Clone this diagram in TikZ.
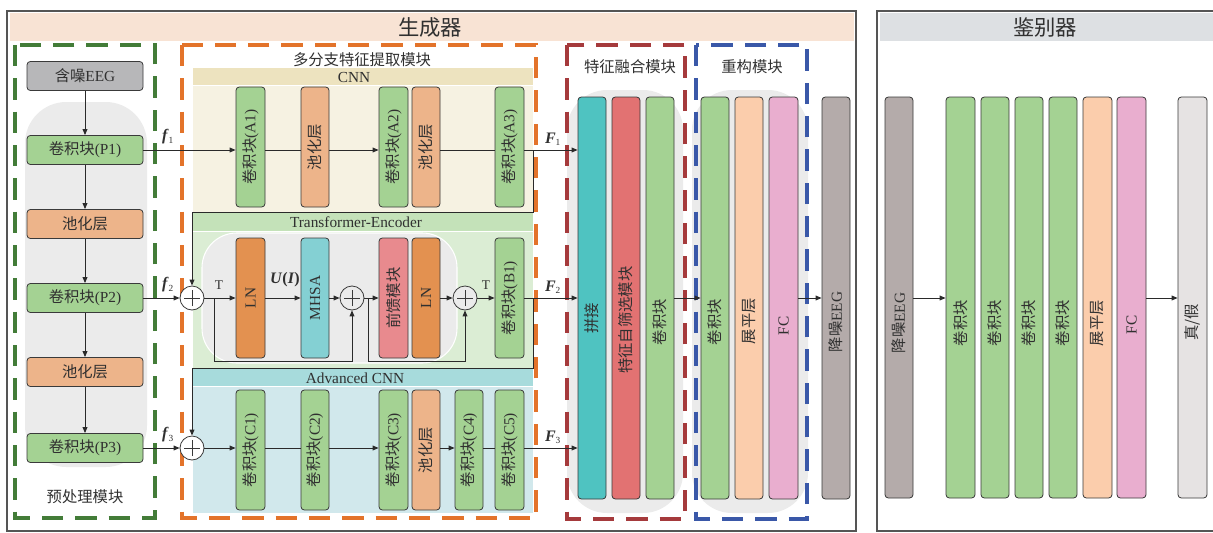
\documentclass[tikz,border=0pt]{standalone}
\usepackage{fontspec}
\setmainfont{Liberation Serif}
\newfontfamily\cjk{Noto Sans CJK SC}
\usetikzlibrary{arrows.meta}
\newcommand\zh[1]{{\cjk #1}}
\definecolor{txt}{HTML}{303030}
\definecolor{bd}{HTML}{3A3A3A}
\definecolor{ln}{HTML}{2A2A2A}
\definecolor{framec}{HTML}{555555}
\definecolor{pk}{HTML}{F8E3D4}
\definecolor{dg}{HTML}{DDE0E3}
\definecolor{capg}{HTML}{EBEBEB}
\definecolor{dgreen}{HTML}{437C38}
\definecolor{dorange}{HTML}{E3732A}
\definecolor{dred}{HTML}{A53A3C}
\definecolor{dblue}{HTML}{3A58A8}
\definecolor{grn}{HTML}{A4D293}
\definecolor{poolc}{HTML}{EDB48A}
\definecolor{gry}{HTML}{B7B7B9}
\definecolor{cnnh}{HTML}{EDE3BF}
\definecolor{cnnb}{HTML}{F6F2E2}
\definecolor{trh}{HTML}{C4E2B9}
\definecolor{trb}{HTML}{DBEDD4}
\definecolor{advh}{HTML}{A7DBDC}
\definecolor{advb}{HTML}{D1E8EC}
\definecolor{lnc}{HTML}{E39150}
\definecolor{mhsac}{HTML}{84D0D3}
\definecolor{ffc}{HTML}{E88A8E}
\definecolor{tealc}{HTML}{4FC3C1}
\definecolor{selr}{HTML}{E27272}
\definecolor{flatc}{HTML}{FBCDAC}
\definecolor{fcp}{HTML}{E9AECF}
\definecolor{denc}{HTML}{B4ABAA}
\definecolor{outg}{HTML}{E6E3E3}
\newcommand\vb[8]{%
  \node[box, fill=#6, minimum width={(#3-#2)*0.75pt}, minimum height={(#5-#4)*0.75pt}] (#1) at ({(#2+#3)/2},{(#4+#5)/2}) {};
  \node[rotate=90] (#1t) at ({(#2+#3)/2},#7) {#8};}
\begin{document}
\begin{tikzpicture}[x=0.75pt,y=-0.75pt,
  every node/.style={font=\fontsize{11.5}{13}\selectfont, text=txt},
  box/.style={draw=bd, line width=0.6pt, rounded corners=2.5pt, inner sep=0pt},
  hb/.style={box, minimum width=87pt, minimum height=21.75pt},
  arr/.style={draw=ln, line width=0.7pt, -{Triangle[length=4.5pt,width=3.6pt]}},
  conn/.style={draw=ln, line width=0.7pt},
  dbox/.style={line width=2.6pt, dash pattern=on 16pt off 9pt},
  title/.style={font=\fontsize{16}{18}\selectfont},
  lab/.style={font=\fontsize{12}{14}\selectfont},
  plus/.style={circle, draw=bd, line width=0.6pt, minimum size=18pt, inner sep=0pt,
    path picture={\draw[bd, line width=0.5pt] ([xshift=-6pt]path picture bounding box.center) -- ([xshift=6pt]path picture bounding box.center);
      \draw[bd, line width=0.5pt] ([yshift=-6pt]path picture bounding box.center) -- ([yshift=6pt]path picture bounding box.center);}},
  ]
\useasboundingbox (0,0) rectangle (1213,532);
% ---- outer frames
\fill[fill=pk] (10,13) rectangle (854,41);
\node[title] (gtitle) at (430,27) {\zh{生成器}};
\draw[line width=1.1pt, draw=framec] (7,11) rectangle (856,531);
\fill[fill=dg] (880,13) rectangle (1214,41);
\node[title] (dtitle) at (1045,27) {\zh{鉴别器}};
\draw[line width=1.1pt, draw=framec] (877,11) rectangle (1216,531);
% ---- capsules
\fill[fill=capg, rounded corners=31pt] (25,102) rectangle (147,467);
\fill[fill=capg, rounded corners=30pt] (567,90) rectangle (683,513);
\fill[fill=capg, rounded corners=30pt] (692,90) rectangle (808,513);
% ---- sections
\fill[fill=cnnh] (193,68) rectangle (533,85);
\fill[fill=cnnb] (193,86) rectangle (533,212);
\fill[fill=trh] (193,213) rectangle (533,231);
\fill[fill=trb] (193,232) rectangle (533,368);
\draw[draw=white, fill=capg, rounded corners=26pt, line width=0.8pt] (202,233) rectangle (457,363);
\fill[fill=advh] (193,369) rectangle (533,386);
\fill[fill=advb] (193,387) rectangle (533,513);
\node (cnnlab) at (354,77) {CNN};
\node (trlab) at (356,222) {Transformer-Encoder};
\node (advlab) at (355,378) {Advanced CNN};
% ---- dashed modules
\draw[dbox, draw=dgreen] (15,45) rectangle (155,518);
\draw[dbox, draw=dorange] (182,45) rectangle (536,518);
\draw[dbox, draw=dred] (567,45) rectangle (685,519);
\draw[dbox, draw=dblue] (696,45) rectangle (807,519);
\node (m1) at (85,497) {\zh{预处理模块}};
\node (m2) at (362,60) {\zh{多分支特征提取模块}};
\node (m3) at (630,67) {\zh{特征融合模块}};
\node (m4) at (752,67) {\zh{重构模块}};
% ---- preprocessing
\node[hb, fill=gry] (N0) at (85,76) {\zh{含噪}EEG};
\node[hb, fill=grn] (P1) at (85,150) {\zh{卷积块}(P1)};
\node[hb, fill=poolc] (Q1) at (85,224) {\zh{池化层}};
\node[hb, fill=grn] (P2) at (85,298) {\zh{卷积块}(P2)};
\node[hb, fill=poolc] (Q2) at (85,372) {\zh{池化层}};
\node[hb, fill=grn] (P3) at (85,448) {\zh{卷积块}(P3)};
\draw[arr] (N0) -- (P1);
\draw[arr] (P1) -- (Q1);
\draw[arr] (Q1) -- (P2);
\draw[arr] (P2) -- (Q2);
\draw[arr] (Q2) -- (P3);
% ---- CNN branch
\vb{A1}{236}{265}{87}{207}{grn}{147}{\zh{卷积块}(A1)}
\vb{Pa1}{301}{329}{87}{207}{poolc}{147}{\zh{池化层}}
\vb{A2}{379}{408}{87}{207}{grn}{147}{\zh{卷积块}(A2)}
\vb{Pa2}{412}{440}{87}{207}{poolc}{147}{\zh{池化层}}
\vb{A3}{495}{524}{87}{207}{grn}{147}{\zh{卷积块}(A3)}
% ---- Transformer branch
\node[plus, fill=white] (S2) at (192,298) {};
\vb{LN1}{236}{265}{238}{358}{lnc}{298}{LN}
\vb{MH}{301}{329}{238}{358}{mhsac}{298}{MHSA}
\node[plus, fill=capg] (S4) at (352,298) {};
\vb{FF}{379}{408}{238}{358}{ffc}{298}{\zh{前馈模块}}
\vb{LN2}{412}{440}{238}{358}{lnc}{298}{LN}
\node[plus, fill=capg] (S5) at (465,298) {};
\vb{B1}{495}{524}{238}{358}{grn}{298}{\zh{卷积块}(B1)}
% ---- Advanced CNN branch
\node[plus, fill=white] (S3) at (192,448) {};
\vb{C1}{236}{265}{390}{510}{grn}{450}{\zh{卷积块}(C1)}
\vb{C2}{301}{329}{390}{510}{grn}{450}{\zh{卷积块}(C2)}
\vb{C3}{379}{408}{390}{510}{grn}{450}{\zh{卷积块}(C3)}
\vb{Pc}{412}{440}{390}{510}{poolc}{450}{\zh{池化层}}
\vb{C4}{455}{483}{390}{510}{grn}{450}{\zh{卷积块}(C4)}
\vb{C5}{495}{524}{390}{510}{grn}{450}{\zh{卷积块}(C5)}
% ---- fusion / reconstruction
\vb{cat}{578}{606}{97}{499}{tealc}{318}{\zh{拼接}}
\vb{sel}{612}{640}{97}{499}{selr}{320}{\zh{特征自筛选模块}}
\vb{fconv}{646}{674}{97}{499}{grn}{322}{\zh{卷积块}}
\vb{rconv}{701}{729}{97}{499}{grn}{322}{\zh{卷积块}}
\vb{rflat}{735}{763}{97}{499}{flatc}{321}{\zh{展平层}}
\vb{rfc}{769}{798}{97}{499}{fcp}{326}{FC}
\vb{rden}{822}{850}{97}{499}{denc}{322}{\zh{降噪}EEG}
% ---- discriminator
\vb{dEEG}{885}{913}{97}{498}{denc}{323}{\zh{降噪}EEG}
\vb{d1}{946}{975}{97}{498}{grn}{323}{\zh{卷积块}}
\vb{d2}{981}{1009}{97}{498}{grn}{323}{\zh{卷积块}}
\vb{d3}{1015}{1043}{97}{498}{grn}{323}{\zh{卷积块}}
\vb{d4}{1049}{1077}{97}{498}{grn}{323}{\zh{卷积块}}
\vb{dflat}{1083}{1112}{97}{498}{flatc}{323}{\zh{展平层}}
\vb{dfc}{1117}{1146}{97}{498}{fcp}{325}{FC}
\vb{dout}{1178}{1207}{97}{498}{outg}{322}{\zh{真/假}}
% ---- connectors: inputs
\draw[arr] (P1.east) -- (P1.east -| A1.west);
\draw[arr] (P2.east) -- (S2.west);
\draw[arr] (P3.east) -- (S3.west);
\node[lab] (f1) at (168,137) {\textbf{\textit{f}}\textsubscript{\fontsize{7}{8}\selectfont 1}};
\node[lab] (f2) at (168,285) {\textbf{\textit{f}}\textsubscript{\fontsize{7}{8}\selectfont 2}};
\node[lab] (f3) at (168,435) {\textbf{\textit{f}}\textsubscript{\fontsize{7}{8}\selectfont 3}};
% CNN row
\draw[conn] (A1.east |- P1) -- (Pa1.west |- P1);
\draw[arr] (Pa1.east |- P1) -- (A2.west |- P1);
\draw[conn] (Pa2.east |- P1) -- (A3.west |- P1);
\draw[arr] (A3.east |- P1) -- (cat.west |- P1);
\coordinate (j1) at (533,150);
\coordinate (j1b) at (533,212);
\draw[arr] (j1) -- (j1b) -| (S2.north);
% Transformer row
\draw[arr] (S2) -- (LN1.west |- S2);
\draw[arr] (LN1.east |- S2) -- (MH.west |- S2);
\draw[arr] (MH.east |- S2) -- (S4.west);
\draw[arr] (S4.east) -- (FF.west |- S2);
\draw[arr] (LN2.east |- S2) -- (S5.west);
\draw[arr] (S5.east) -- (B1.west |- S2);
\draw[arr] (B1.east |- S2) -- (cat.west |- S2);
\coordinate (k1) at (214,298);
\coordinate (k1b) at (214,361);
\draw[arr] (k1) -- (k1b) -| (S4.south);
\coordinate (k2) at (368,298);
\coordinate (k2b) at (368,361);
\draw[arr] (k2) -- (k2b) -| (S5.south);
\coordinate (j2) at (533,298);
\coordinate (j2b) at (533,368);
\draw[arr] (j2) -- (j2b) -| (S3.north);
\node[font=\fontsize{10}{12}\selectfont] (t1) at (219,285) {T};
\node[font=\fontsize{10}{12}\selectfont] (t2) at (486,285) {T};
\node[lab] (ui) at (285,280) {\textbf{\textit{U}(\textit{I})}};
% Advanced row
\draw[arr] (S3) -- (C1.west |- S3);
\draw[conn] (C1.east |- S3) -- (C2.west |- S3);
\draw[arr] (C2.east |- S3) -- (C3.west |- S3);
\draw[arr] (Pc.east |- S3) -- (C4.west |- S3);
\draw[conn] (C4.east |- S3) -- (C5.west |- S3);
\draw[arr] (C5.east |- S3) -- (cat.west |- S3);
\node[lab] (F1) at (553,139) {\textbf{\textit{F}}\textsubscript{\fontsize{7}{8}\selectfont 1}};
\node[lab] (F2) at (553,287) {\textbf{\textit{F}}\textsubscript{\fontsize{7}{8}\selectfont 2}};
\node[lab] (F3) at (553,437) {\textbf{\textit{F}}\textsubscript{\fontsize{7}{8}\selectfont 3}};
% fusion -> reconstruction -> output
\draw[arr] (fconv.east |- S2) -- (rconv.west |- S2);
\draw[arr] (rfc.east |- S2) -- (rden.west |- S2);
% discriminator
\draw[arr] (dEEG.east |- S2) -- (d1.west |- S2);
\draw[arr] (dfc.east |- S2) -- (dout.west |- S2);
\end{tikzpicture}
\end{document}
